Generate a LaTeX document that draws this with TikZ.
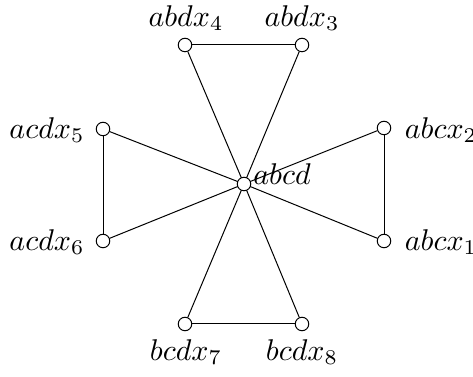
\documentclass[tikz,border=0pt]{standalone}
\begin{document}
\begin{tikzpicture}[x=0.4pt,y=-0.4pt,
  vert/.style={circle,draw,fill=white,inner sep=0pt,minimum size=5.4pt},
  lab/.style={inner sep=0pt,scale=1.2}]
\useasboundingbox (0,0) rectangle (473,377);
\coordinate (c) at (244,184);
\node[vert] (a4) at (185,45) {};
\node[vert] (a3) at (302,45) {};
\node[vert] (a5) at (103,129) {};
\node[vert] (a6) at (103,241) {};
\node[vert] (a2) at (384,128) {};
\node[vert] (a1) at (384,241) {};
\node[vert] (a7) at (185,324) {};
\node[vert] (a8) at (302,324) {};
\draw (a4) -- (a3);
\draw (a5) -- (a6);
\draw (a2) -- (a1);
\draw (a7) -- (a8);
\foreach \n in {a1,a2,a3,a4,a5,a6,a7,a8} \draw (c) -- (\n);
\node[vert] (cn) at (c) {};
\node[lab] (l4) at (186,18) {$abdx_4$};
\node[lab] (l3) at (302,18) {$abdx_3$};
\node[lab] (l5) at (47,130) {$acdx_5$};
\node[lab] (l6) at (47,242) {$acdx_6$};
\node[lab] (l2) at (441,130) {$abcx_2$};
\node[lab] (l1) at (441,242) {$abcx_1$};
\node[lab] (l7) at (186,352) {$bcdx_7$};
\node[lab] (l8) at (302,352) {$bcdx_8$};
\node[lab] (lc) at (282,174) {$abcd$};
\end{tikzpicture}
\end{document}
